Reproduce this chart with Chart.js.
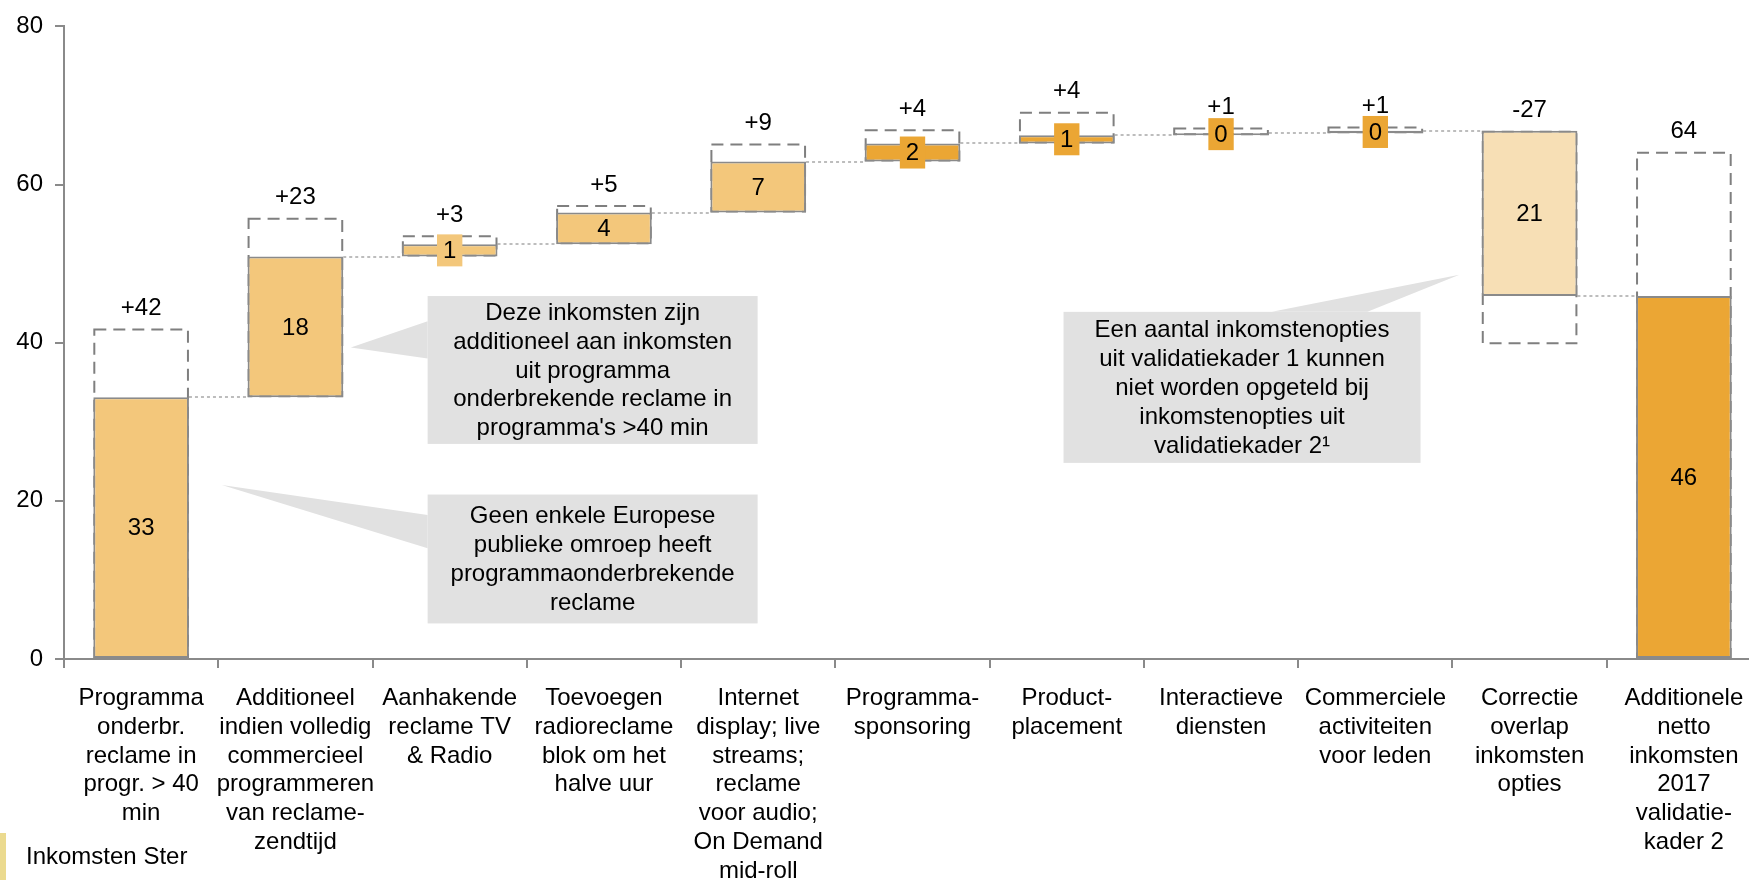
<!DOCTYPE html>
<html>
<head>
<meta charset="utf-8">
<script src="https://cdn.jsdelivr.net/npm/chart.js@4.4.1/dist/chart.umd.min.js"></script>
<style>
  html, body { margin: 0; padding: 0; background: #fff; overflow: hidden; width: 1749px; height: 880px; }
  #wrap { position: absolute; left: 0; top: 0; width: 1770px; height: 880px; }
</style>
</head>
<body>
<div id="wrap"><canvas id="c" width="1770" height="880"></canvas></div>
<script>
// categories (multi-line labels)
const categories = [
  ['Programma', 'onderbr.', 'reclame in', 'progr. > 40', 'min'],
  ['Additioneel', 'indien volledig', 'commercieel', 'programmeren', 'van reclame-', 'zendtijd'],
  ['Aanhakende', 'reclame TV', '& Radio'],
  ['Toevoegen', 'radioreclame', 'blok om het', 'halve uur'],
  ['Internet', 'display; live', 'streams;', 'reclame', 'voor audio;', 'On Demand', 'mid-roll'],
  ['Programma-', 'sponsoring'],
  ['Product-', 'placement'],
  ['Interactieve', 'diensten'],
  ['Commerciele', 'activiteiten', 'voor leden'],
  ['Correctie', 'overlap', 'inkomsten', 'opties'],
  ['Additionele', 'netto', 'inkomsten', '2017', 'validatie-', 'kader 2']
];

// solid part of each bar (start -> end)
const solidStart = [0, 33.1, 50.9, 52.45, 56.45, 62.9, 65.2, 66.25, 66.5, 66.8, 0];
const solidEnd = [33.1, 50.9, 52.45, 56.45, 62.9, 65.2, 66.25, 66.5, 66.8, 45.9, 45.9];
// dashed (potential) range ends, measured from solidStart
const potentialEnd = [41.8, 55.8, 53.6, 57.4, 65.2, 67.0, 69.2, 67.2, 67.35, 39.8, 64.15];

const solidLabels = ['33', '18', '1', '4', '7', '2', '1', '0', '0', '21', '46'];
const deltaLabels = ['+42', '+23', '+3', '+5', '+9', '+4', '+4', '+1', '+1', '-27', '64'];
const yTicks = [0, 20, 40, 60, 80];

const SAND = '#F3C77B', DARK = '#EBA634', PALE = '#F7DFB5';
const barColors = [SAND, SAND, SAND, SAND, SAND, DARK, DARK, DARK, DARK, PALE, DARK];
const GREY = '#8a8a8a';
const FONT = "'Liberation Sans', Arial, sans-serif";

Chart.defaults.font.family = FONT;
Chart.defaults.font.size = 24;
Chart.defaults.color = '#000';

// callouts, in category units (x) and value units (y)
const callouts = [
  { box: [2.357, 4.496, 45.9, 27.2], ptr: [[2.357, 42.7], [1.859, 39.4], [2.357, 38.0]],
    lines: ['Deze inkomsten zijn', 'additioneel aan inkomsten', 'uit programma', 'onderbrekende reclame in', "programma's >40 min"] },
  { box: [2.357, 4.496, 20.8, 4.5], ptr: [[2.357, 18.2], [1.023, 22.0], [2.357, 14.0]],
    lines: ['Geen enkele Europese', 'publieke omroep heeft', 'programmaonderbrekende', 'reclame'] },
  { box: [6.479, 8.793, 43.9, 24.8], ptr: [[7.830, 43.9], [9.045, 48.6], [8.449, 43.9]],
    lines: ['Een aantal inkomstenopties', 'uit validatiekader 1 kunnen', 'niet worden opgeteld bij', 'inkomstenopties uit', 'validatiekader 2\u00B9'] }
];

function barRect(el) {
  const p = el.getProps(['x', 'y', 'base', 'width'], true);
  return { l: p.x - p.width / 2, r: p.x + p.width / 2, t: Math.min(p.y, p.base), b: Math.max(p.y, p.base), cx: p.x };
}

const waterfallPlugin = {
  id: 'waterfall',
  beforeDatasetsDraw(chart) {
    const ctx = chart.ctx;
    const y = chart.scales.y;
    const dashed = chart.getDatasetMeta(0).data;
    const solid = chart.getDatasetMeta(1).data;
    ctx.save();
    // dotted connectors
    ctx.strokeStyle = '#bdbdbd';
    ctx.lineWidth = 2;
    ctx.setLineDash([3, 3]);
    for (let i = 0; i < solid.length - 1; i++) {
      const a = barRect(solid[i]), b = barRect(solid[i + 1]);
      const py = Math.round(y.getPixelForValue(solidEnd[i]));
      ctx.beginPath();
      ctx.moveTo(a.r, py);
      ctx.lineTo(b.l, py);
      ctx.stroke();
    }
    // dashed potential boxes
    ctx.strokeStyle = '#7f7f7f';
    ctx.setLineDash([12, 7]);
    dashed.forEach(el => {
      const r = barRect(el);
      ctx.strokeRect(r.l + 1, r.t + 1, r.r - r.l - 2, r.b - r.t - 2);
    });
    ctx.restore();
  },
  afterDatasetsDraw(chart) {
    const ctx = chart.ctx;
    const y = chart.scales.y;
    const solid = chart.getDatasetMeta(1).data;
    ctx.save();
    ctx.font = '24px ' + FONT;
    ctx.textAlign = 'center';
    ctx.textBaseline = 'middle';
    solid.forEach((el, i) => {
      const r = barRect(el);
      const cy = (r.t + r.b) / 2;
      const txt = solidLabels[i];
      if (r.b - r.t < 28) {
        const w = ctx.measureText(txt).width + 12;
        ctx.fillStyle = barColors[i];
        ctx.fillRect(r.cx - w / 2, cy - 16, w, 32);
      }
      ctx.fillStyle = '#000';
      ctx.fillText(txt, r.cx, cy + 1);
      const top = y.getPixelForValue(Math.max(solidStart[i], solidEnd[i], potentialEnd[i]));
      ctx.fillText(deltaLabels[i], r.cx, top - 20);
    });
    ctx.restore();
  },
  afterDraw(chart) {
    const ctx = chart.ctx;
    const x = chart.scales.x, y = chart.scales.y;
    const cw = (x.right - x.left) / categories.length;
    const px = c => x.left + c * cw;
    ctx.save();
    callouts.forEach(co => {
      const [c0, c1, v0, v1] = co.box;
      const l = px(c0), r = px(c1), t = y.getPixelForValue(v0), b = y.getPixelForValue(v1);
      ctx.fillStyle = '#e1e1e1';
      ctx.fillRect(l, t, r - l, b - t);
      ctx.beginPath();
      co.ptr.forEach(([c, v], k) => {
        const X = px(c), Y = y.getPixelForValue(v);
        if (k === 0) ctx.moveTo(X, Y); else ctx.lineTo(X, Y);
      });
      ctx.closePath();
      ctx.fill();
      ctx.fillStyle = '#000';
      ctx.font = '24px ' + FONT;
      ctx.textAlign = 'center';
      ctx.textBaseline = 'middle';
      const lh = 28.8;
      const cy = (t + b) / 2 - (co.lines.length - 1) * lh / 2;
      co.lines.forEach((s, k) => ctx.fillText(s, (l + r) / 2, cy + k * lh + 1));
    });
    // legend
    ctx.fillStyle = '#EBDA8F';
    ctx.fillRect(0, 833, 6, 47);
    ctx.fillStyle = '#000';
    ctx.textAlign = 'left';
    ctx.fillText('Inkomsten Ster', 26, 857);
    ctx.restore();
  }
};

new Chart(document.getElementById('c'), {
  type: 'bar',
  data: {
    labels: categories,
    datasets: [
      {
        label: 'potential',
        data: categories.map((_, i) => [solidStart[i], potentialEnd[i]]),
        backgroundColor: 'rgba(0,0,0,0)',
        borderWidth: 0,
        grouped: false,
        categoryPercentage: 1,
        barPercentage: 0.62
      },
      {
        label: 'Inkomsten Ster',
        data: categories.map((_, i) => [solidStart[i], solidEnd[i]]),
        backgroundColor: barColors,
        borderColor: GREY,
        borderWidth: 2,
        borderSkipped: false,
        grouped: false,
        categoryPercentage: 1,
        barPercentage: 0.62
      }
    ]
  },
  options: {
    responsive: false,
    animation: false,
    layout: { padding: { top: 23, right: 9, left: 0, bottom: 0 } },
    plugins: { legend: { display: false }, tooltip: { enabled: false } },
    scales: {
      x: {
        offset: true,
        grid: { offset: true, drawOnChartArea: false, tickLength: 9, color: GREY, lineWidth: 2 },
        border: { color: GREY, width: 2 },
        ticks: { padding: 16, maxRotation: 0, autoSkip: false, color: '#000', font: { size: 24, lineHeight: 1.2 } },
        afterFit(scale) { scale.height = 221; }
      },
      y: {
        min: 0,
        max: 80,
        afterBuildTicks(scale) { scale.ticks = yTicks.map(v => ({ value: v })); },
        grid: { drawOnChartArea: false, tickLength: 9, color: GREY, lineWidth: 2 },
        border: { color: GREY, width: 2 },
        ticks: { padding: 12, color: '#000', font: { size: 24 } },
        afterFit(scale) { scale.width = 64; }
      }
    }
  },
  plugins: [waterfallPlugin]
});
</script>
</body>
</html>
